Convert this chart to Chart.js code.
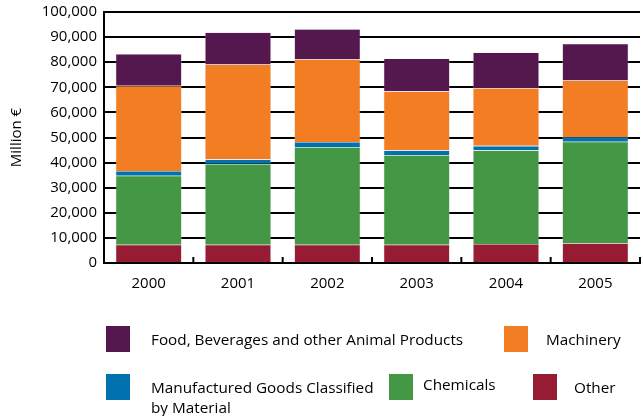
<!DOCTYPE html>
<html>
<head>
<meta charset="utf-8">
<script src="https://cdn.jsdelivr.net/npm/chart.js@4/dist/chart.umd.min.js"></script>
<style>
  body { margin: 0; background: #fff; }
  #wrap { position: relative; width: 643px; height: 416px; font-family: "Open Sans", sans-serif; }
  #chart { position: absolute; left: 0; top: 0; }
  .lg-box { position: absolute; width: 24px; height: 26px; }
  .lg-text { position: absolute; font-size: 15.3px; color: #000; line-height: 20px; }
</style>
</head>
<body>
<div id="wrap">
  <canvas id="chart" width="643" height="416"></canvas>
  <div id="legend"></div>
</div>
<script>
  // values in million euro
  const years = ["2000", "2001", "2002", "2003", "2004", "2005"];
  const other = [7300, 7300, 7300, 7300, 7600, 7900];
  const chemicals = [27500, 32200, 38900, 35700, 37300, 40400];
  const manufactured = [1900, 1800, 2000, 1900, 1800, 1900];
  const machinery = [33900, 37800, 33000, 23500, 23000, 22500];
  const food = [12700, 12800, 12000, 13100, 14200, 14700];

  const yTicks = [0, 10000, 20000, 30000, 40000, 50000, 60000, 70000, 80000, 90000, 100000];

  const series = [
    { label: "Other", data: other, color: "#961b33" },
    { label: "Chemicals", data: chemicals, color: "#449744" },
    { label: "Manufactured Goods Classified\nby Material", data: manufactured, color: "#0072ae" },
    { label: "Machinery", data: machinery, color: "#f37d23" },
    { label: "Food, Beverages and other Animal Products", data: food, color: "#54184e" },
  ];

  // where each legend entry sits below the chart
  const legendSpots = {
    "Food, Beverages and other Animal Products": { bx: 106, by: 326, tx: 151, ty: 329 },
    "Machinery": { bx: 504, by: 326, tx: 546, ty: 329 },
    "Manufactured Goods Classified\nby Material": { bx: 106, by: 374, tx: 151, ty: 377 },
    "Chemicals": { bx: 389, by: 374, tx: 423, ty: 374 },
    "Other": { bx: 533, by: 374, tx: 574, ty: 377 },
  };

  const fontFamily = '"Open Sans", sans-serif';

  // short upward ticks between the categories
  const boundaryTicks = {
    id: "boundaryTicks",
    afterDraw(chart) {
      const xs = chart.scales.x;
      const ctx = chart.ctx;
      const step = (xs.right - xs.left) / years.length;
      ctx.save();
      ctx.strokeStyle = "#000";
      ctx.lineWidth = 2;
      for (let i = 1; i <= years.length; i++) {
        const x = xs.left + step * i;
        ctx.beginPath();
        ctx.moveTo(x, xs.top);
        ctx.lineTo(x, xs.top - 6);
        ctx.stroke();
      }
      ctx.restore();
    },
  };

  const chart = new Chart(document.getElementById("chart"), {
    type: "bar",
    data: {
      labels: years,
      datasets: series.map((s) => ({
        label: s.label,
        data: s.data,
        backgroundColor: s.color,
        borderColor: "rgba(200,200,200,0.6)",
        borderWidth: 0.6,
        barPercentage: 0.74,
        categoryPercentage: 1,
      })),
    },
    options: {
      responsive: false,
      animation: false,
      layout: { padding: { top: 12, right: 3, bottom: 0, left: 0 } },
      plugins: {
        legend: { display: false },
        tooltip: { enabled: false },
      },
      scales: {
        x: {
          stacked: true,
          grid: { display: false, drawTicks: false },
          border: { display: true, color: "#000", width: 2 },
          ticks: {
            color: "#000",
            padding: 12,
            font: { family: fontFamily, size: 15 },
          },
          afterFit(scale) {
            scale.height = 153;
            scale.paddingLeft = 0;
            scale.paddingRight = 0;
          },
        },
        y: {
          stacked: true,
          min: 0,
          max: 100000,
          afterBuildTicks(scale) {
            scale.ticks = yTicks.map((v) => ({ value: v }));
          },
          grid: { color: "#000", lineWidth: 2, drawTicks: false },
          border: { display: true, color: "#000", width: 2 },
          ticks: {
            color: "#000",
            padding: 7,
            font: { family: fontFamily, size: 15 },
            callback: (v) => v.toLocaleString("en-US"),
          },
          title: {
            display: true,
            text: "Million €",
            color: "#000",
            padding: { top: 8, bottom: 0 },
            font: { family: fontFamily, size: 15 },
          },
          afterFit(scale) {
            scale.width = 104;
            scale.paddingTop = 0;
            scale.paddingBottom = 0;
          },
        },
      },
    },
    plugins: [boundaryTicks],
  });

  // legend built from the chart's datasets
  const legendEl = document.getElementById("legend");
  chart.data.datasets.forEach((ds) => {
    const spot = legendSpots[ds.label];
    const box = document.createElement("div");
    box.className = "lg-box";
    box.style.left = spot.bx + "px";
    box.style.top = spot.by + "px";
    box.style.background = ds.backgroundColor;
    legendEl.appendChild(box);

    const txt = document.createElement("div");
    txt.className = "lg-text";
    txt.style.left = spot.tx + "px";
    txt.style.top = spot.ty + "px";
    txt.innerHTML = ds.label.split("\n").join("<br>");
    legendEl.appendChild(txt);
  });
</script>
</body>
</html>
